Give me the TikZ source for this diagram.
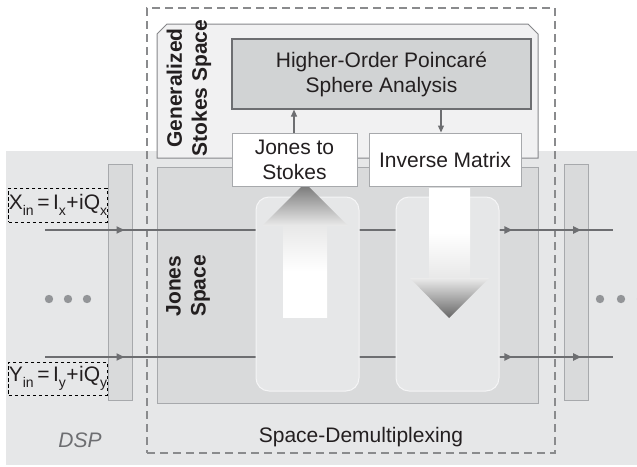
\documentclass[tikz,border=0pt]{standalone}
\usepackage{fontspec}
\setmainfont{Liberation Sans}
\usetikzlibrary{arrows.meta,decorations.markings,shadings}
\definecolor{dspbg}{HTML}{E6E7E8}
\definecolor{jonesbg}{HTML}{D9DADB}
\definecolor{stokesbg}{HTML}{F1F1F2}
\definecolor{hobg}{HTML}{D1D3D4}
\definecolor{linec}{HTML}{6D6E71}
\definecolor{borderc}{HTML}{A7A9AC}
\definecolor{dotc}{HTML}{939598}
\definecolor{txt}{HTML}{231F20}
\newcommand\sbs[1]{\raisebox{-0.28em}{\fontsize{14}{14}\selectfont #1}}
\tikzset{
  every node/.style={font=\fontsize{21}{25}\selectfont, text=txt, inner sep=0pt},
  whitebox/.style={draw=borderc, line width=1pt, fill=white, align=center},
  barbox/.style={draw=borderc, line width=1pt, fill=jonesbg},
  roundbox/.style={draw=white!60!dspbg, line width=1pt, fill=dspbg, rounded corners=13pt},
  sigline/.style={draw=linec, line width=1.8pt},
  vlabel/.style={rotate=90, align=center, font=\bfseries\fontsize{21}{25}\selectfont},
  vsmall/.style={draw=linec, line width=1.2pt, -{Triangle[length=7pt,width=6pt]}},
  lblbox/.style={draw=black, line width=0.9pt, dash pattern=on 3.5pt off 2.5pt, fill=dspbg, minimum width=94pt, minimum height=34pt},
  dotsty/.style={fill=dotc},
}
\begin{document}
\begin{tikzpicture}[x=1pt,y=-1pt]
\useasboundingbox (0,0) rectangle (637,466);
% DSP background
\node[fill=dspbg, minimum width=631pt, minimum height=314pt, anchor=north west] (dsp) at (6,151) {};
% outer dashed box
\node[draw=linec!80, line width=1.5pt, dash pattern=on 8pt off 5pt, minimum width=408pt, minimum height=445pt] (sdm) at (351,230.5) {};
% Generalized Stokes Space box (chamfered)
\draw[draw=borderc!80!black, line width=1pt, fill=stokesbg]
  (157,158) -- (157,34) -- (167,24) -- (528,24) -- (538,34) -- (538,158) -- cycle;
\coordinate (gss) at (157,24);
% Jones space box
\node[draw=borderc, line width=1pt, fill=jonesbg, minimum width=381pt, minimum height=236pt] (jsp) at (347.5,285) {};
% bars
\node[barbox, minimum width=24pt, minimum height=236pt] (lbar) at (120,282) {};
\node[barbox, minimum width=24pt, minimum height=236pt] (rbar) at (576,282) {};
% signal lines
\coordinate (xa) at (45,230);
\coordinate (xb) at (613,230);
\coordinate (ya) at (45,357);
\coordinate (yb) at (613,357);
\foreach \a/\b in {xa/xb, ya/yb}{
  \draw[sigline, postaction={decorate}, decoration={markings,
     mark=at position 0.140 with {\arrow[linec]{Triangle[length=8pt,width=7pt]}},
     mark=at position 0.823 with {\arrow[linec]{Triangle[length=8pt,width=7pt]}},
     mark=at position 0.944 with {\arrow[linec]{Triangle[length=8pt,width=7pt]}}}]
     (\a) -- (\b);
}
% rounded boxes
\node[roundbox, minimum width=103pt, minimum height=194pt] (rb1) at (307.5,294) {};
\node[roundbox, minimum width=103pt, minimum height=194pt] (rb2) at (447.5,294) {};
% up arrow (gradient)
\shade[top color=black!9, bottom color=white, middle color=white] (283,226) rectangle (327,317);
\shade[top color=black!55, bottom color=black!8] (262,226) -- (305,183) -- (348,226) -- cycle;
% down arrow (gradient)
\shade[top color=white, bottom color=black!9, middle color=white] (429,188) rectangle (470,278);
\shade[top color=black!8, bottom color=black!60] (410,278) -- (489,278) -- (449,318) -- cycle;
% boxes in Stokes space
\node[draw=linec, line width=1.2pt, fill=hobg, minimum width=299pt, minimum height=70pt, align=center] (hoa) at (381.5,74) {Higher-Order Poincaré\\Sphere Analysis};
\node[whitebox, minimum width=125pt, minimum height=53pt] (j2s) at (294.5,159.5) {Jones to\\Stokes};
\node[whitebox, minimum width=152pt, minimum height=53pt] (inv) at (445,159.5) {Inverse Matrix};
\coordinate (ux) at (294,0);
\coordinate (dx) at (441,0);
\draw[vsmall] (j2s.north -| ux) -- (hoa.south -| ux);
\draw[vsmall] (hoa.south -| dx) -- (inv.north -| dx);
% rotated labels
\node[vlabel] (gsslbl) at (189,88) {Generalized\\Stokes Space};
\node[vlabel] (jslbl) at (188,286) {Jones\\Space};
% bottom labels
\node (sdmlbl) at (361,437) {Space-Demultiplexing};
\node[text=linec, font=\itshape\fontsize{21}{25}\selectfont] (dsplbl) at (80,440) {DSP};
% input labels
\node[lblbox] (xin) at (58,205) {X\sbs{in}\,=\,I\sbs{x}\kern0.5pt+\kern0.5pt iQ\sbs{x}};
\node[lblbox, minimum height=33pt] (yin) at (58,378.5) {Y\sbs{in}\,=\,I\sbs{y}\kern0.5pt+\kern0.5pt iQ\sbs{y}};
% dots
\foreach \x in {49,68,87,600,621,641}{
  \fill[dotsty] (\x,299) circle (4.2pt);
}
\end{tikzpicture}
\end{document}
